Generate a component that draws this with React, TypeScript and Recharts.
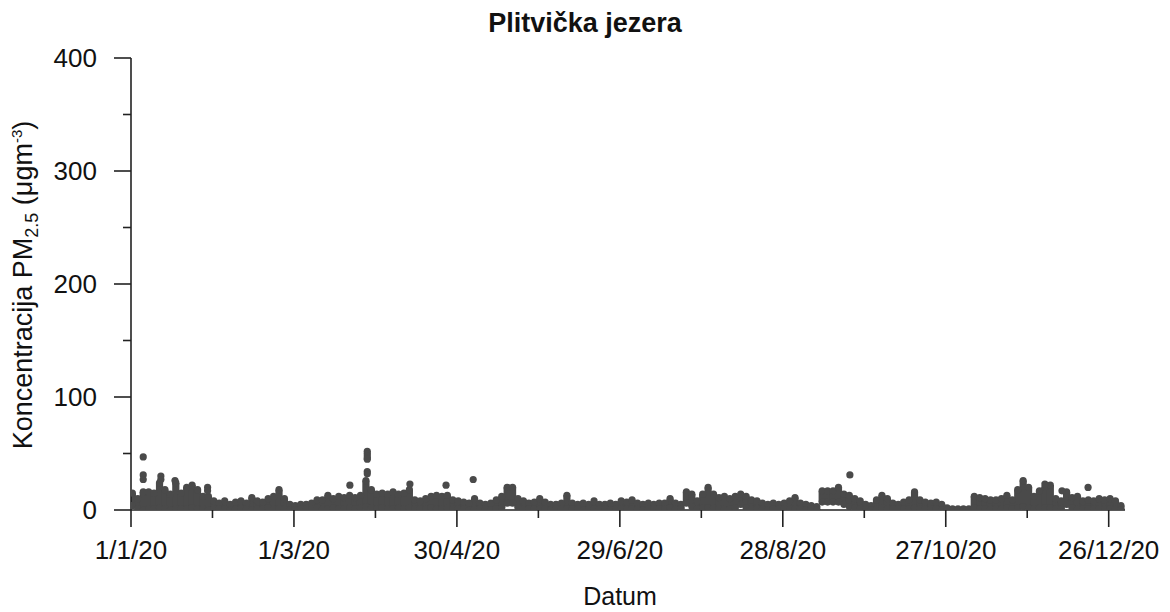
import React from "react";
import { ComposedChart, Bar, Scatter, XAxis, YAxis } from "recharts";

// 2-day bins over 2020 (day index of bin centre = 2*i + 0.5)
const binHigh = [
  15, 10, 16, 16, 15, 24, 18, 14, 24, 15,
  20, 22, 18, 12, 12, 8, 6, 8, 5, 7,
  8, 6, 11, 8, 7, 10, 12, 18, 10, 5,
  4, 5, 5, 6, 9, 9, 13, 10, 12, 11,
  13, 11, 13, 26, 18, 14, 15, 14, 16, 14,
  15, 18, 9, 8, 10, 12, 13, 12, 13, 9,
  8, 7, 6, 10, 6, 5, 6, 9, 12, 20,
  20, 10, 8, 6, 7, 10, 7, 5, 5, 6,
  13, 6, 5, 6, 5, 8, 5, 5, 6, 5,
  8, 7, 9, 6, 5, 6, 5, 6, 6, 10,
  6, 5, 16, 14, 8, 14, 20, 14, 11, 12,
  10, 12, 14, 12, 9, 8, 6, 5, 6, 5,
  6, 8, 11, 6, 5, 4, 3, 17, 17, 17,
  20, 14, 13, 10, 8, 5, 4, 9, 13, 10,
  6, 5, 7, 9, 16, 9, 7, 6, 7, 5,
  2, 1, 1, 1, 1, 12, 11, 10, 9, 9,
  10, 13, 9, 18, 26, 20, 12, 17, 20, 22,
  10, 8, 16, 11, 12, 8, 9, 8, 10, 9,
  10, 8, 4,
];

const binLow = [
  4, 1, 0, 1, 1, 2, 1, 0, 1, 1,
  1, 2, 1, 1, 0, 1, 1, 1, 0, 1,
  1, 1, 0, 1, 1, 2, 1, 1, 1, 0,
  0, 1, 1, 1, 2, 1, 1, 2, 1, 1,
  2, 1, 2, 3, 2, 1, 2, 1, 1, 2,
  1, 2, 1, 1, 1, 2, 1, 1, 2, 1,
  1, 1, 0, 1, 1, 1, 0, 1, 2, 6,
  6, 2, 1, 1, 1, 1, 1, 0, 1, 1,
  1, 1, 1, 0, 1, 1, 1, 1, 0, 1,
  1, 1, 1, 1, 0, 1, 1, 1, 1, 2,
  1, 1, 6, 3, 1, 2, 2, 2, 1, 1,
  1, 2, 5, 2, 1, 1, 1, 0, 1, 1,
  1, 1, 1, 1, 0, 1, 0, 7, 7, 7,
  7, 5, 3, 2, 1, 1, 0, 1, 2, 1,
  1, 1, 1, 1, 2, 1, 1, 1, 1, 0,
  0, 0, 0, 0, 0, 2, 1, 1, 1, 1,
  1, 2, 1, 2, 3, 2, 1, 2, 2, 2,
  1, 1, 5, 2, 1, 1, 1, 1, 1, 1,
  1, 1, 0,
];

// isolated high readings (day of year, value)
const spikeDays = [4.5, 4.5, 4.5, 11, 11, 16.2, 28.2, 28.2, 80.6, 87, 87, 87, 87, 87, 87, 87, 102.7, 116, 126, 264.7, 336.5, 342.8, 352.4];
const spikeValues = [47, 31, 27, 30, 27, 26, 20, 17, 22, 52, 50, 48, 46, 45, 34, 32, 23, 22, 27, 31, 23, 17, 20];

const xTickDays = [0, 30, 60, 90, 120, 150, 180, 210, 240, 270, 300, 330, 360];
const xTickLabels: Record<number, string> = {
  0: "1/1/20",
  60: "1/3/20",
  120: "30/4/20",
  180: "29/6/20",
  240: "28/8/20",
  300: "27/10/20",
  360: "26/12/20",
};
const yTicks = [0, 50, 100, 150, 200, 250, 300, 350, 400];

const bins = binHigh.map((h, i) => ({ x: 2 * i + 0.5, high: h, low: binLow[i] }));
const spikes = spikeDays.map((d, i) => ({ x: d, v: spikeValues[i] }));

const DOT = "#4a4a4a";
const AXIS = "#222";
const FONT = "'Liberation Sans', Arial, Helvetica, sans-serif";
const R = 3.6;

const Dot = (p: any) =>
  p.cx == null || p.cy == null ? null : <circle cx={p.cx} cy={p.cy} r={R} fill={DOT} />;

const BandShape = (p: any) => {
  if (p.x == null || p.y == null) return null;
  const cx = p.x + (p.width || 0) / 2;
  const top = Math.min(p.y, p.y + p.height);
  const h = Math.abs(p.height);
  return <rect x={cx - R} y={top} width={2 * R} height={h} fill={DOT} />;
};

const YTick = (p: any) => {
  const { x, y, payload } = p;
  const major = payload.value % 100 === 0;
  return (
    <g>
      <line x1={x} x2={x - (major ? 17 : 8)} y1={y} y2={y} stroke={AXIS} strokeWidth={1.6} />
      {major && (
        <text x={x - 34} y={y} dy="0.36em" textAnchor="end" fontSize={26} fill="#111" fontFamily={FONT}>
          {payload.value}
        </text>
      )}
    </g>
  );
};

const XTick = (p: any) => {
  const { x, y, payload } = p;
  const label = xTickLabels[payload.value];
  const major = label !== undefined;
  return (
    <g>
      <line x1={x} x2={x} y1={y} y2={y + (major ? 17 : 8)} stroke={AXIS} strokeWidth={1.6} />
      {major && (
        <text x={x} y={y + 49} textAnchor="middle" fontSize={26} fill="#111" fontFamily={FONT}>
          {label}
        </text>
      )}
    </g>
  );
};

export default function App() {
  return (
    <div style={{ position: "fixed", left: 0, top: 0, width: 1170, height: 612, background: "#fff" }}>
      <ComposedChart
        width={1170}
        height={612}
        data={bins}
        margin={{ top: 58, right: 45, bottom: 0, left: 0 }}
      >
        <XAxis
          type="number"
          dataKey="x"
          domain={[0, 366]}
          ticks={xTickDays}
          interval={0}
          tickSize={0}
          tickMargin={0}
          tickLine={false}
          tick={<XTick />}
          axisLine={{ stroke: AXIS, strokeWidth: 1.6 }}
          height={102}
          allowDataOverflow
        />
        <YAxis
          type="number"
          domain={[0, 400]}
          ticks={yTicks}
          interval={0}
          tickSize={0}
          tickMargin={0}
          tickLine={false}
          tick={<YTick />}
          axisLine={{ stroke: AXIS, strokeWidth: 1.6 }}
          width={131}
          allowDataOverflow
        />
        <Bar
          dataKey={(d: any) => [d.low, d.high]}
          fill={DOT}
          shape={BandShape}
          isAnimationActive={false}
        />
        <Scatter dataKey="high" shape={Dot} isAnimationActive={false} />
        <Scatter dataKey="low" shape={Dot} isAnimationActive={false} />
        <Scatter data={spikes} dataKey="v" shape={Dot} isAnimationActive={false} />
      </ComposedChart>
      <svg
        width={1170}
        height={612}
        style={{ position: "absolute", left: 0, top: 0, pointerEvents: "none" }}
      >
        <text x={585} y={32} textAnchor="middle" fontSize={27} fontWeight="bold" fill="#111" fontFamily={FONT}>
          Plitvička jezera
        </text>
        <text x={620} y={605} textAnchor="middle" fontSize={25} fill="#111" fontFamily={FONT}>
          Datum
        </text>
        <text
          transform="translate(32,285) rotate(-90)"
          textAnchor="middle"
          fontSize={27}
          fill="#111"
          fontFamily={FONT}
        >
          Koncentracija PM
          <tspan fontSize={18} dy={6}>2.5</tspan>
          <tspan dy={-6}> (μgm</tspan>
          <tspan fontSize={15} dy={-10}>-3</tspan>
          <tspan dy={10}>)</tspan>
        </text>
      </svg>
    </div>
  );
}
